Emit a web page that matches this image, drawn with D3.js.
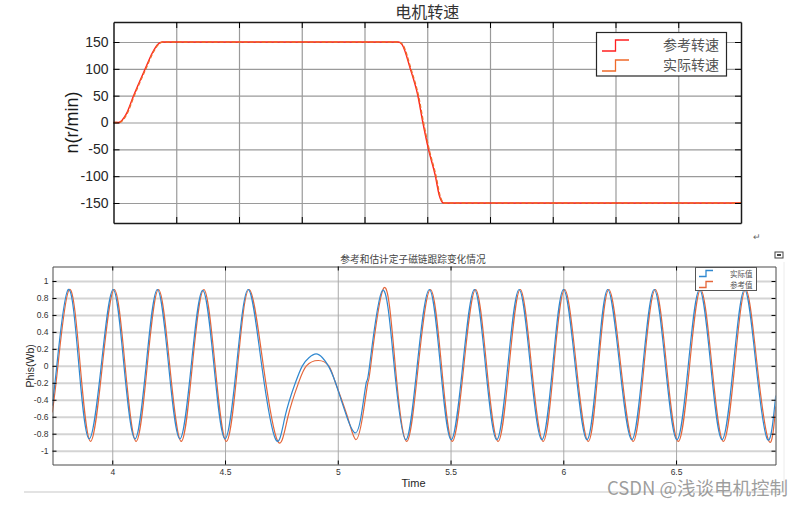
<!DOCTYPE html>
<html>
<head>
<meta charset="utf-8">
<script src="https://cdn.jsdelivr.net/npm/d3@7/dist/d3.min.js"></script>
<style>
  body { margin: 0; background: #fff; }
  svg { display: block; }
</style>
</head>
<body>
<svg id="chart" width="812" height="505"></svg>
<script>
// ---- top chart: motor speed (r/min) ----
var speedRefT = [0, 0.08, 0.2, 0.32, 0.505, 0.62, 0.7, 0.78, 4.54, 4.6, 4.73, 4.85, 4.93, 5.02, 5.13, 5.19, 5.26, 10];
var speedRefV = [0, 0, 15, 50, 100, 130, 145, 150, 150, 145, 100, 50, 0, -50, -100, -135, -150, -150];
var speedActT = [0, 0.09, 0.21, 0.33, 0.515, 0.63, 0.71, 0.79, 4.55, 4.61, 4.74, 4.86, 4.94, 5.03, 5.14, 5.2, 5.27, 10];
var speedActV = [0, 0, 15, 50, 100, 130, 145, 150, 150, 145, 100, 50, 0, -50, -100, -135, -150, -150];
var speedTicksX = [1, 2, 3, 4, 5, 6, 7, 8, 9];
var speedTicksY = [-150, -100, -50, 0, 50, 100, 150];
var speedTickLabels = ['-150', '-100', '-50', '0', '50', '100', '150'];
var speedLegend = ['参考转速', '实际转速'];

// ---- bottom chart: stator flux, actual vs reference (Wb) ----
var fluxActT = [3.734, 3.754, 3.805, 3.852, 3.898, 3.951, 4.004, 4.052, 4.101, 4.150, 4.200, 4.250, 4.300, 4.350,
  4.401, 4.451, 4.500, 4.551, 4.603, 4.663, 4.725, 4.766, 4.812, 4.843, 4.872, 4.904, 4.932, 4.958,
  4.990, 5.040, 5.077, 5.103, 5.126, 5.141, 5.198, 5.250, 5.302, 5.352, 5.406, 5.455, 5.503, 5.554,
  5.606, 5.655, 5.705, 5.754, 5.804, 5.854, 5.905, 5.953, 6.001, 6.053, 6.105, 6.151, 6.197, 6.250, 6.304,
  6.353, 6.403, 6.453, 6.504, 6.554, 6.604, 6.654, 6.704, 6.754, 6.804, 6.855, 6.906, 6.942];
var fluxActV = [-0.47, 0, 0.90, 0, -0.86, 0, 0.90, 0, -0.86, 0, 0.90, 0, -0.86, 0,
  0.89, 0, -0.86, 0, 0.90, 0, -0.87, -0.6, -0.2, 0, 0.095, 0.14, 0.095, 0,
  -0.2, -0.6, -0.79, -0.6, -0.2, 0, 0.89, 0, -0.87, 0, 0.90, 0, -0.87, 0,
  0.90, 0, -0.87, 0, 0.90, 0, -0.87, 0, 0.90, 0, -0.87, 0, 0.90, 0, -0.87,
  0, 0.90, 0, -0.87, 0, 0.90, 0, -0.87, 0, 0.90, 0, -0.87, -0.35];
var fluxRefT = [3.734, 3.759, 3.810, 3.858, 3.904, 3.956, 4.009, 4.057, 4.106, 4.155, 4.205, 4.255, 4.306, 4.355,
  4.406, 4.456, 4.506, 4.556, 4.607, 4.670, 4.734, 4.779, 4.826, 4.861, 4.914, 4.960,
  4.990, 5.043, 5.080, 5.110, 5.133, 5.146, 5.205, 5.255, 5.306, 5.357, 5.411, 5.460, 5.508, 5.559,
  5.611, 5.660, 5.711, 5.760, 5.809, 5.859, 5.911, 5.958, 6.006, 6.058, 6.111, 6.156, 6.202, 6.255, 6.310,
  6.358, 6.408, 6.458, 6.510, 6.560, 6.609, 6.659, 6.710, 6.760, 6.809, 6.860, 6.912, 6.942];
var fluxRefV = [-0.55, 0, 0.90, 0, -0.89, 0, 0.90, 0, -0.89, 0, 0.90, 0, -0.89, 0,
  0.90, 0, -0.89, 0, 0.90, 0, -0.89, -0.6, -0.2, 0, 0.063, 0,
  -0.2, -0.6, -0.87, -0.6, -0.2, 0, 0.92, 0, -0.89, 0, 0.90, 0, -0.89, 0,
  0.90, 0, -0.89, 0, 0.90, 0, -0.89, 0, 0.90, 0, -0.89, 0, 0.90, 0, -0.89,
  0, 0.90, 0, -0.89, 0, 0.90, 0, -0.89, 0, 0.90, 0, -0.89, -0.48];
var fluxTicksX = [4, 4.5, 5, 5.5, 6, 6.5];
var fluxTickLabelsX = ['4', '4.5', '5', '5.5', '6', '6.5'];
var fluxTicksY = [-1, -0.8, -0.6, -0.4, -0.2, 0, 0.2, 0.4, 0.6, 0.8, 1];
var fluxTickLabelsY = ['-1', '-0.8', '-0.6', '-0.4', '-0.2', '0', '0.2', '0.4', '0.6', '0.8', '1'];
var fluxLegend = ['实际值', '参考值'];

var cjk = '"Noto Sans CJK SC", sans-serif';
var latin = '"Liberation Sans", Arial, sans-serif';
var svg = d3.select('#chart');

function stepIcon(g, x0, x1, yLow, yHigh, color) {
  var xm = (x0 + x1) / 2;
  g.append('path')
    .attr('d', 'M' + x0 + ',' + yLow + 'H' + xm + 'V' + yHigh + 'H' + x1)
    .attr('fill', 'none').attr('stroke', color).attr('stroke-width', 1.3);
}

// ================= speed chart =================
(function () {
  var box = { left: 113.5, right: 741, top: 22, bottom: 223 };
  var w = box.right - box.left, h = box.bottom - box.top;
  var x = d3.scaleLinear().domain([0, 10]).range([box.left, box.right]);
  var y = d3.scaleLinear().domain([-187.3, 187.3]).range([box.bottom, box.top]);
  var g = svg.append('g');

  // grid
  g.append('g').attr('transform', 'translate(0,' + box.bottom + ')')
    .call(d3.axisBottom(x).tickValues(speedTicksX).tickSize(-h).tickFormat(''))
    .call(function (s) { s.select('.domain').remove(); s.selectAll('line').attr('stroke', '#9a9a9a').attr('stroke-width', 1.2); });
  g.append('g').attr('transform', 'translate(' + box.left + ',0)')
    .call(d3.axisLeft(y).tickValues(speedTicksY).tickSize(-w).tickFormat(''))
    .call(function (s) { s.select('.domain').remove(); s.selectAll('line').attr('stroke', '#9a9a9a').attr('stroke-width', 1.2); });

  // lines
  var refLine = d3.line().x(function (d, i) { return x(speedRefT[i]); }).y(function (d) { return y(d); }).curve(d3.curveMonotoneX);
  var actLine = d3.line().x(function (d, i) { return x(speedActT[i]); }).y(function (d) { return y(d); }).curve(d3.curveMonotoneX);
  g.append('path').attr('d', refLine(speedRefV)).attr('fill', 'none').attr('stroke', '#ff1f1f').attr('stroke-width', 1.4);
  g.append('path').attr('d', actLine(speedActV)).attr('fill', 'none').attr('stroke', '#ef6a2a').attr('stroke-width', 1.4)
    .attr('stroke-dasharray', '4,2');

  // axes with inward ticks
  var axL = g.append('g').attr('transform', 'translate(' + box.left + ',0)')
    .call(d3.axisLeft(y).tickValues(speedTicksY).tickSizeInner(-6).tickSizeOuter(0).tickPadding(5)
      .tickFormat(function (d, i) { return speedTickLabels[i]; }));
  axL.selectAll('text').attr('font-family', latin).attr('font-size', 14).attr('fill', '#262626');
  g.append('g').attr('transform', 'translate(' + box.right + ',0)')
    .call(d3.axisRight(y).tickValues(speedTicksY).tickSizeInner(-6).tickSizeOuter(0).tickFormat(''));
  g.append('g').attr('transform', 'translate(0,' + box.bottom + ')')
    .call(d3.axisBottom(x).tickValues(speedTicksX).tickSizeInner(-6).tickSizeOuter(0).tickFormat(''));
  g.append('g').attr('transform', 'translate(0,' + box.top + ')')
    .call(d3.axisTop(x).tickValues(speedTicksX).tickSizeInner(-6).tickSizeOuter(0).tickFormat(''));
  g.selectAll('.domain').attr('stroke', '#1a1a1a').attr('stroke-width', 1.5);

  // titles
  g.append('text').attr('x', (box.left + box.right) / 2).attr('y', 18).attr('text-anchor', 'middle')
    .attr('font-family', cjk).attr('font-size', 16).attr('fill', '#333').text('电机转速');
  g.append('text').attr('transform', 'translate(78,' + (box.top + box.bottom) / 2 + ') rotate(-90)')
    .attr('text-anchor', 'middle').attr('font-family', latin).attr('font-size', 18).attr('fill', '#1a1a1a').text('n(r/min)');

  // legend
  var lg = g.append('g');
  lg.append('rect').attr('x', 596.5).attr('y', 32.5).attr('width', 130).attr('height', 43.5)
    .attr('fill', '#fff').attr('stroke', '#262626').attr('stroke-width', 1.2);
  var cols = ['#ff1f1f', '#ef6a2a'];
  speedLegend.forEach(function (name, i) {
    var cy = 45 + i * 20;
    stepIcon(lg, 602, 629, cy + 6, cy - 5, cols[i]);
    lg.append('text').attr('x', 719).attr('y', cy + 5).attr('text-anchor', 'end')
      .attr('font-family', cjk).attr('font-size', 14).attr('fill', '#555').text(name);
  });
})();

// ================= flux chart =================
(function () {
  var box = { left: 52.5, right: 775.5, top: 266.5, bottom: 464.5 };
  var w = box.right - box.left, h = box.bottom - box.top;
  var x = d3.scaleLinear().domain([3.735, 6.941]).range([box.left, box.right]);
  var y = d3.scaleLinear().domain([-1.163, 1.171]).range([box.bottom, box.top]);
  var g = svg.append('g');

  g.append('g').attr('transform', 'translate(' + box.left + ',0)')
    .call(d3.axisLeft(y).tickValues(fluxTicksY).tickSize(-w).tickFormat(''))
    .call(function (s) { s.select('.domain').remove(); s.selectAll('line').attr('stroke', '#d4d4d4').attr('stroke-width', 2); });
  g.append('g').attr('transform', 'translate(0,' + box.bottom + ')')
    .call(d3.axisBottom(x).tickValues(fluxTicksX).tickSize(-h).tickFormat(''))
    .call(function (s) { s.select('.domain').remove(); s.selectAll('line').attr('stroke', '#a9a9a9').attr('stroke-width', 1); });

  g.append('clipPath').attr('id', 'fluxClip').append('rect')
    .attr('x', box.left).attr('y', box.top).attr('width', w).attr('height', h);
  var plot = g.append('g').attr('clip-path', 'url(#fluxClip)');
  var refLine = d3.line().x(function (d, i) { return x(fluxRefT[i]); }).y(function (d) { return y(d); }).curve(d3.curveNatural);
  var actLine = d3.line().x(function (d, i) { return x(fluxActT[i]); }).y(function (d) { return y(d); }).curve(d3.curveNatural);
  plot.append('path').attr('d', refLine(fluxRefV)).attr('fill', 'none').attr('stroke', '#e5663a').attr('stroke-width', 1.2);
  plot.append('path').attr('d', actLine(fluxActV)).attr('fill', 'none').attr('stroke', '#2f88d0').attr('stroke-width', 1.2);

  var axL = g.append('g').attr('transform', 'translate(' + box.left + ',0)')
    .call(d3.axisLeft(y).tickValues(fluxTicksY).tickSizeInner(-4).tickSizeOuter(0).tickPadding(4)
      .tickFormat(function (d, i) { return fluxTickLabelsY[i]; }));
  var axB = g.append('g').attr('transform', 'translate(0,' + box.bottom + ')')
    .call(d3.axisBottom(x).tickValues(fluxTicksX).tickSizeInner(-4).tickSizeOuter(0).tickPadding(4)
      .tickFormat(function (d, i) { return fluxTickLabelsX[i]; }));
  g.append('g').attr('transform', 'translate(' + box.right + ',0)')
    .call(d3.axisRight(y).tickValues(fluxTicksY).tickSizeInner(-4).tickSizeOuter(0).tickFormat(''));
  g.append('g').attr('transform', 'translate(0,' + box.top + ')')
    .call(d3.axisTop(x).tickValues(fluxTicksX).tickSizeInner(-4).tickSizeOuter(0).tickFormat(''));
  g.selectAll('.domain').attr('stroke', '#4a4a4a').attr('stroke-width', 1);
  axL.selectAll('text').attr('font-family', latin).attr('font-size', 8.5).attr('fill', '#333');
  axB.selectAll('text').attr('font-family', latin).attr('font-size', 8.5).attr('fill', '#333');

  g.append('text').attr('x', 413).attr('y', 263).attr('text-anchor', 'middle')
    .attr('font-family', cjk).attr('font-size', 9.7).attr('fill', '#444').text('参考和估计定子磁链跟踪变化情况');
  g.append('text').attr('x', 413.5).attr('y', 487).attr('text-anchor', 'middle')
    .attr('font-family', latin).attr('font-size', 11).attr('fill', '#262626').text('Time');
  g.append('text').attr('transform', 'translate(34,' + y(0) + ') rotate(-90)')
    .attr('text-anchor', 'middle').attr('font-family', latin).attr('font-size', 10.5).attr('fill', '#262626').text('Phis(Wb)');

  var lg = g.append('g');
  lg.append('rect').attr('x', 695.5).attr('y', 267.5).attr('width', 61).attr('height', 23)
    .attr('fill', '#fff').attr('stroke', '#555').attr('stroke-width', 1);
  var cols = ['#2f88d0', '#e5663a'];
  fluxLegend.forEach(function (name, i) {
    var cy = 273.5 + i * 11;
    stepIcon(lg, 699, 713, cy + 3, cy - 3, cols[i]);
    lg.append('text').attr('x', 752.5).attr('y', cy + 3).attr('text-anchor', 'end')
      .attr('font-family', cjk).attr('font-size', 7.5).attr('fill', '#555').text(name);
  });
})();

// ---- page decorations around the figure ----
svg.append('line').attr('x1', 24).attr('x2', 784).attr('y1', 492).attr('y2', 492).attr('stroke', '#e3e3e3').attr('stroke-width', 2);
svg.append('line').attr('x1', 784).attr('x2', 784).attr('y1', 262).attr('y2', 492).attr('stroke', '#ececec').attr('stroke-width', 1);
svg.append('rect').attr('x', 775).attr('y', 252).attr('width', 8).attr('height', 6)
  .attr('fill', '#fff').attr('stroke', '#444').attr('stroke-width', 1);
svg.append('rect').attr('x', 777).attr('y', 254).attr('width', 4).attr('height', 2).attr('fill', '#444');
svg.append('text').attr('x', 753).attr('y', 240).attr('font-family', latin).attr('font-size', 9).attr('fill', '#666').text('↵');
svg.append('text').attr('x', 607).attr('y', 495).attr('font-family', cjk).attr('font-size', 18.5)
  .attr('fill', '#8c8c8c').attr('fill-opacity', 0.85).text('CSDN @浅谈电机控制');
</script>
</body>
</html>
